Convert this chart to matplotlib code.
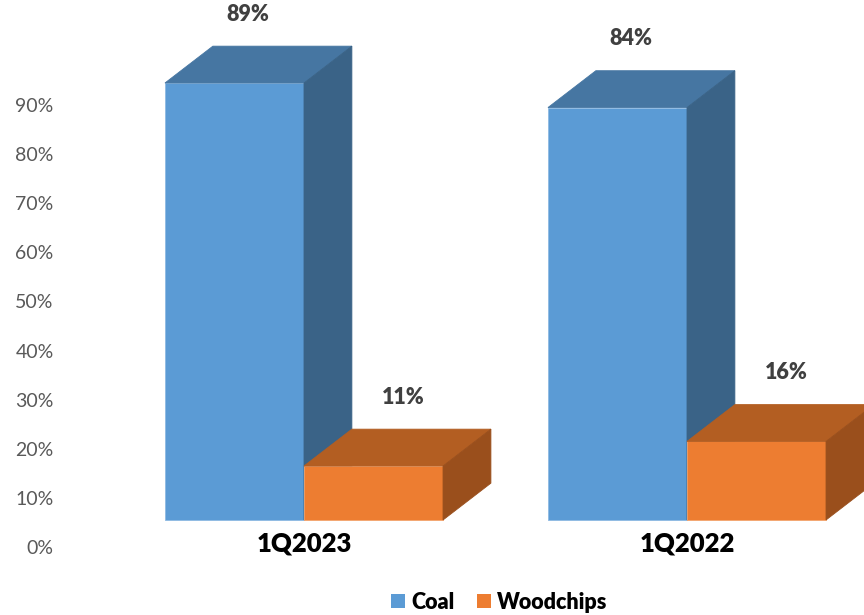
import matplotlib.pyplot as plt
from matplotlib.patches import Polygon, Patch

plt.rcParams['font.family'] = ['Lato', 'DejaVu Sans']

# data
categories = ['1Q2023', '1Q2022']
series = ['Coal', 'Woodchips']
coal = [89, 84]
woodchips = [11, 16]
yticks = [0, 10, 20, 30, 40, 50, 60, 70, 80, 90]

# colours (front, top, side, edge)
colors = {
    'Coal': ('#5B9BD5', '#4676A2', '#3A6387', '#8DB9E2'),
    'Woodchips': ('#ED7D31', '#B35E22', '#9A4F1C', '#F3A46E'),
}
label_shift = {'Coal': 0.27, 'Woodchips': 0.62}

# fake 3d geometry
w = 0.363      # bar width (category units)
dx = 0.125     # depth offset in x
dy = 7.5       # depth offset in y (percent units)
base = 5.5     # front face baseline

fig = plt.figure(figsize=(8.64, 6.15), dpi=100)
ax = fig.add_axes([62 / 864, 0, 1 - 62 / 864, 1])
ax.set_xlim((62 - 304) / 383, (864 - 304) / 383)
ax.set_ylim(-13.85, 111.4)

for i, cat in enumerate(categories):
    for j, (name, vals) in enumerate(zip(series, [coal, woodchips])):
        v = vals[i]
        x0 = i - w + j * w
        x1 = x0 + w
        top = base + v
        front, topc, side, edge = colors[name]
        ax.add_patch(Polygon([(x0, base), (x1, base), (x1, top), (x0, top)],
                             closed=True, fc=front, ec=edge, lw=0.6))
        ax.add_patch(Polygon([(x0, top), (x1, top), (x1 + dx, top + dy), (x0 + dx, top + dy)],
                             closed=True, fc=topc, ec=topc, lw=0.6))
        ax.add_patch(Polygon([(x1, base), (x1 + dx, base + dy), (x1 + dx, top + dy), (x1, top)],
                             closed=True, fc=side, ec=side, lw=0.6))
        ax.text((x0 + x1) / 2 + dx * label_shift[name], v + 19.5, f'{v}%', ha='center', va='center',
                fontsize=15.5, fontweight=800, color='#404040')
    ax.text(i, 0.8, cat, ha='center', va='center', fontsize=18.5, fontweight=800, color='black')

ax.set_yticks(yticks)
ax.set_yticklabels([f'{t}%' for t in yticks], fontsize=14, color='#595959')
ax.set_xticks([])
ax.tick_params(axis='y', length=0, pad=6)
for s in ax.spines.values():
    s.set_visible(False)

handles = [Patch(fc=colors[n][0], ec='none') for n in series]
leg = fig.legend(handles, series, loc='center', bbox_to_anchor=(0.578, 0.021), ncol=2,
                 frameon=False, prop={'weight': 800, 'size': 15.5},
                 handlelength=0.65, handleheight=0.65, handletextpad=0.3, columnspacing=1.0)

fig.savefig('out.png', dpi=100)
